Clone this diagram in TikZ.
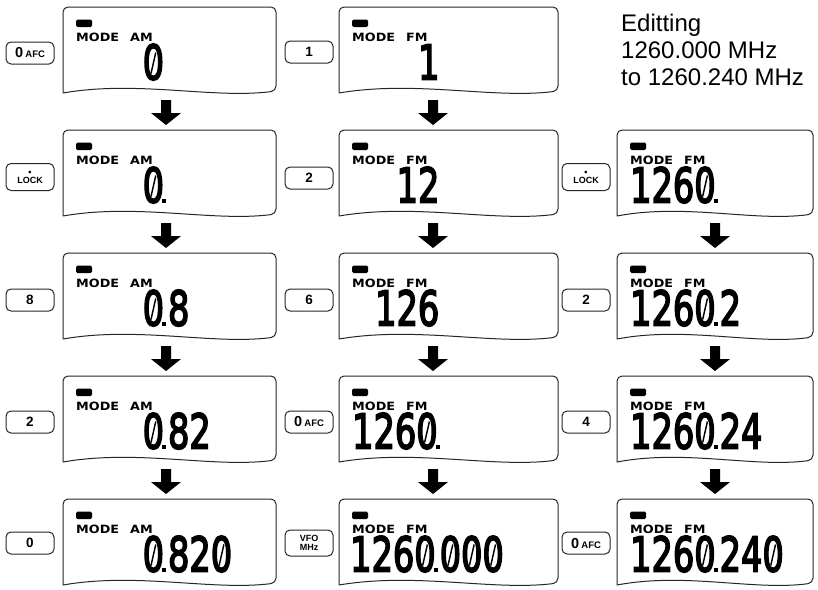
\documentclass[tikz,border=0pt]{standalone}
\usepackage{fontspec}
\usepackage{graphicx}
\setmainfont{Liberation Sans}
\newfontfamily\segfont{DejaVu Sans}
\newfontfamily\digfont[FakeBold=4]{DejaVu Sans}
\newcommand{\lcdnum}[1]{\scalebox{0.7}[1]{\digfont\fontsize{48}{48}\selectfont #1}}
\newcommand{\ldot}{\hspace{-3pt}\rule{5.7pt}{4pt}\hspace{3pt}}
\newcommand{\zr}{\ooalign{0\cr\hidewidth\raisebox{5.5pt}{\rotatebox[origin=c]{-18}{\rule{2pt}{22pt}}}\hidewidth\cr}}
\newcommand{\modetxt}[1]{\scalebox{1.12}[1]{#1}}
\newcommand{\afckey}{{\fontsize{14.5}{14}\selectfont 0}\,{\fontsize{9.5}{10}\selectfont AFC}}
\tikzset{
  disp/.style={line width=1pt, draw=black!85, line join=round},
  keybox/.style={draw=black!85, rounded corners=5pt, line width=1pt, minimum width=48pt,
    minimum height=22pt, inner sep=0pt, font=\bfseries\fontsize{13.5}{14}\selectfont},
  smallkey/.style={keybox, align=center, font=\bfseries\fontsize{9}{9}\selectfont},
  modelbl/.style={inner sep=0pt, anchor=base west, font=\segfont\bfseries\fontsize{11.4}{12}\selectfont},
  num/.style={inner sep=0pt, anchor=base west},
  note/.style={inner sep=0pt, anchor=base west, font=\fontsize{24}{27}\selectfont},
  blockarrow/.style={fill=black}
}
\newcommand{\panel}[5]{%
  \pgfmathsetmacro{\panelw}{#3-#2}%
  \draw[disp] (#2,#4+86) [rounded corners=5pt] -- (#2,#4) -- (#3,#4) -- (#3,#4+84) [sharp corners]
    .. controls ({#3-0.3*\panelw},#4+92) and ({#2+0.35*\panelw},#4+73) .. (#2,#4+86) -- cycle;
  \fill[rounded corners=1.5pt] (#2+13,#4+12.5) rectangle (#2+29,#4+20);
  \node[modelbl] (#1m) at (#2+13,#4+34.5) {\modetxt{MODE}};
  \node[modelbl] (#1b) at (#2+67,#4+34.5) {\modetxt{#5}};
}
\newcommand{\downarr}[2]{%
  \fill[blockarrow] (#1-5,#2-25) -- (#1+5,#2-25) -- (#1+5,#2-12) -- (#1+15,#2-12) -- (#1,#2)
    -- (#1-15,#2-12) -- (#1-5,#2-12) -- cycle;
}
\begin{document}
\begin{tikzpicture}[x=1pt,y=-1pt]
\useasboundingbox (0,0) rectangle (818,589);
% ---------- column 1 ----------
\panel{a1}{63}{276}{7}{AM}
\panel{a2}{63}{276}{130}{AM}
\panel{a3}{63}{276}{253}{AM}
\panel{a4}{63}{276}{376}{AM}
\panel{a5}{63}{276}{499}{AM}
\node[num] (a1n) at (142.5,79.5) {\lcdnum{\zr}};
\node[num] (a2n) at (142.5,202.5) {\lcdnum{\zr\ldot}};
\node[num] (a3n) at (142.5,325.5) {\lcdnum{\zr\ldot 8}};
\node[num] (a4n) at (142.5,448.5) {\lcdnum{\zr\ldot 82}};
\node[num] (a5n) at (142.5,571.5) {\lcdnum{\zr\ldot 82\zr}};
\node[keybox] (a1k) at (30,53) {\afckey};
\node[smallkey, minimum height=27pt] (a2k) at (30,177) {\raisebox{-1pt}{•}\\LOCK};
\node[keybox] (a3k) at (30,300) {8};
\node[keybox] (a4k) at (30,422) {2};
\node[keybox] (a5k) at (30,543) {0};
\downarr{166}{125}
\downarr{166}{248}
\downarr{166}{371}
\downarr{166}{494}
% ---------- column 2 ----------
\panel{b1}{339}{558}{7}{FM}
\panel{b2}{339}{558}{130}{FM}
\panel{b3}{339}{558}{253}{FM}
\panel{b4}{339}{558}{376}{FM}
\panel{b5}{339}{558}{499}{FM}
\node[num] (b1n) at (418,79.5) {\lcdnum{1}};
\node[num] (b2n) at (396.5,202.5) {\lcdnum{12}};
\node[num] (b3n) at (375,325.5) {\lcdnum{126}};
\node[num] (b4n) at (352,448.5) {\lcdnum{126\zr\ldot}};
\node[num] (b5n) at (350,571.5) {\lcdnum{126\zr\ldot\zr\zr\zr}};
\node[keybox] (b1k) at (309,52) {1};
\node[keybox] (b2k) at (309,178) {2};
\node[keybox] (b3k) at (309,300) {6};
\node[keybox] (b4k) at (309,422) {\afckey};
\node[smallkey, minimum height=26pt] (b5k) at (309,543) {VFO\\MHz};
\downarr{433}{125}
\downarr{433}{248}
\downarr{433}{371}
\downarr{433}{494}
% ---------- column 3 ----------
\node[note] (t1) at (621,31) {Editting};
\node[note] (t2) at (621,58) {1260.000 MHz};
\node[note] (t3) at (621,85) {to 1260.240 MHz};
\panel{c2}{617}{813}{130}{FM}
\panel{c3}{617}{813}{253}{FM}
\panel{c4}{617}{813}{376}{FM}
\panel{c5}{617}{813}{499}{FM}
\node[num] (c2n) at (630,202.5) {\lcdnum{126\zr\ldot}};
\node[num] (c3n) at (630,325.5) {\lcdnum{126\zr\ldot 2}};
\node[num] (c4n) at (630,448.5) {\lcdnum{126\zr\ldot 24}};
\node[num] (c5n) at (630,571.5) {\lcdnum{126\zr\ldot 24\zr}};
\node[smallkey, minimum height=27pt] (c2k) at (586,177) {\raisebox{-1pt}{•}\\LOCK};
\node[keybox] (c3k) at (586,300) {2};
\node[keybox] (c4k) at (586,422) {4};
\node[keybox] (c5k) at (586,543) {\afckey};
\downarr{715}{248}
\downarr{715}{371}
\downarr{715}{494}
\end{tikzpicture}
\end{document}
